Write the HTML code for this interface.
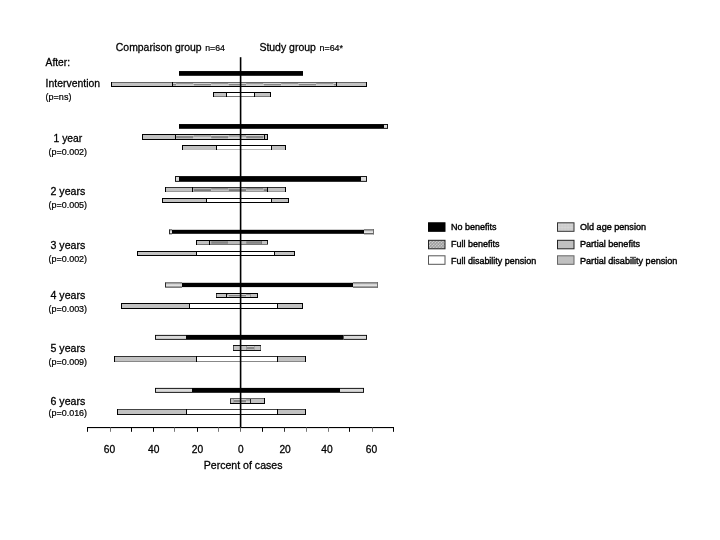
<!DOCTYPE html>
<html><head><meta charset="utf-8"><title>Chart</title>
<style>
html,body{margin:0;padding:0;background:#fff;}
body{width:720px;height:540px;overflow:hidden;}
svg{display:block;font-family:"Liberation Sans",sans-serif;fill:#000;will-change:transform;opacity:0.999;}
</style></head><body>
<svg width="720" height="540" viewBox="0 0 720 540">
<defs>
<pattern id="fb" x="0" y="0" width="2.16" height="2.16" patternUnits="userSpaceOnUse" patternTransform="translate(429.2 241.2) rotate(45)"><rect width="2.16" height="2.16" fill="#8a8a8a"/><rect x="0.38" y="0.38" width="1.4" height="1.4" fill="#e4e4e4"/></pattern>
<pattern id="oal" x="557.6" y="223" width="3" height="3" patternUnits="userSpaceOnUse"><rect width="3" height="3" fill="#c6c6c6"/><rect x="0.4" y="0.4" width="2.2" height="2.2" fill="#d8d8d8"/></pattern>
<linearGradient id="oag" x1="0" x2="0" y1="0" y2="1"><stop offset="0" stop-color="#c6c6c6"/><stop offset="0.45" stop-color="#d8d8d8"/><stop offset="1" stop-color="#efefef"/></linearGradient>
</defs>
<rect width="720" height="540" fill="#fff"/>
<rect x="179" y="71.05" width="124" height="4.75" fill="#000"/>
<rect x="111" y="82.5" width="61" height="4" fill="#c2c2c2"/>
<rect x="336" y="82.5" width="31" height="4" fill="#c2c2c2"/>
<rect x="172" y="83" width="4.1" height="1" fill="#cfcfcf"/>
<rect x="172" y="84" width="4.1" height="1" fill="#858585"/>
<rect x="172" y="85" width="4.1" height="1" fill="#b4b4b4"/>
<rect x="176.1" y="83" width="17.5" height="1" fill="#989898"/>
<rect x="176.1" y="84" width="17.5" height="1" fill="#c4c4c4"/>
<rect x="176.1" y="85" width="17.5" height="1" fill="#cfcfcf"/>
<rect x="193.6" y="83" width="17.5" height="1" fill="#cfcfcf"/>
<rect x="193.6" y="84" width="17.5" height="1" fill="#858585"/>
<rect x="193.6" y="85" width="17.5" height="1" fill="#b4b4b4"/>
<rect x="211.1" y="83" width="17.5" height="1" fill="#989898"/>
<rect x="211.1" y="84" width="17.5" height="1" fill="#c4c4c4"/>
<rect x="211.1" y="85" width="17.5" height="1" fill="#cfcfcf"/>
<rect x="228.6" y="83" width="17.5" height="1" fill="#cfcfcf"/>
<rect x="228.6" y="84" width="17.5" height="1" fill="#858585"/>
<rect x="228.6" y="85" width="17.5" height="1" fill="#b4b4b4"/>
<rect x="246.1" y="83" width="17.5" height="1" fill="#989898"/>
<rect x="246.1" y="84" width="17.5" height="1" fill="#c4c4c4"/>
<rect x="246.1" y="85" width="17.5" height="1" fill="#cfcfcf"/>
<rect x="263.6" y="83" width="17.5" height="1" fill="#cfcfcf"/>
<rect x="263.6" y="84" width="17.5" height="1" fill="#858585"/>
<rect x="263.6" y="85" width="17.5" height="1" fill="#b4b4b4"/>
<rect x="281.1" y="83" width="17.5" height="1" fill="#989898"/>
<rect x="281.1" y="84" width="17.5" height="1" fill="#c4c4c4"/>
<rect x="281.1" y="85" width="17.5" height="1" fill="#cfcfcf"/>
<rect x="298.6" y="83" width="17.5" height="1" fill="#cfcfcf"/>
<rect x="298.6" y="84" width="17.5" height="1" fill="#858585"/>
<rect x="298.6" y="85" width="17.5" height="1" fill="#b4b4b4"/>
<rect x="316.1" y="83" width="17.5" height="1" fill="#989898"/>
<rect x="316.1" y="84" width="17.5" height="1" fill="#c4c4c4"/>
<rect x="316.1" y="85" width="17.5" height="1" fill="#cfcfcf"/>
<rect x="333.6" y="83" width="2.4" height="1" fill="#cfcfcf"/>
<rect x="333.6" y="84" width="2.4" height="1" fill="#858585"/>
<rect x="333.6" y="85" width="2.4" height="1" fill="#b4b4b4"/>
<rect x="111" y="82" width="256" height="1" fill="#666"/>
<rect x="111" y="86" width="256" height="1" fill="#000"/>
<rect x="111" y="82" width="1" height="5" fill="#000"/>
<rect x="172" y="82" width="1" height="5" fill="#000"/>
<rect x="336" y="82" width="1" height="5" fill="#000"/>
<rect x="366" y="82" width="1" height="5" fill="#000"/>
<rect x="213" y="92.5" width="13" height="4" fill="#c2c2c2"/>
<rect x="254" y="92.5" width="17" height="4" fill="#c2c2c2"/>
<rect x="226" y="92.5" width="28" height="4" fill="#fff"/>
<rect x="213" y="92" width="58" height="1" fill="#000"/>
<rect x="213" y="96" width="58" height="1" fill="#777"/>
<rect x="213" y="92" width="1" height="5" fill="#000"/>
<rect x="226" y="92" width="1" height="5" fill="#000"/>
<rect x="254" y="92" width="1" height="5" fill="#000"/>
<rect x="270" y="92" width="1" height="5" fill="#000"/>
<rect x="384" y="124.05" width="4" height="4.75" fill="#000"/>
<rect x="384" y="124.95" width="3.1" height="2.95" fill="#dadada"/>
<rect x="179" y="124.05" width="205" height="4.75" fill="#000"/>
<rect x="142" y="134.5" width="33" height="5" fill="#c2c2c2"/>
<rect x="264" y="134.5" width="4" height="5" fill="#c2c2c2"/>
<rect x="175" y="135" width="1.1" height="1" fill="#a8a8a8"/>
<rect x="175" y="136" width="1.1" height="1" fill="#a8a8a8"/>
<rect x="175" y="137" width="1.1" height="1" fill="#cccccc"/>
<rect x="175" y="138" width="1.1" height="1" fill="#cccccc"/>
<rect x="176.1" y="135" width="17.5" height="1" fill="#cfcfcf"/>
<rect x="176.1" y="136" width="17.5" height="1" fill="#8a8a8a"/>
<rect x="176.1" y="137" width="17.5" height="1" fill="#8a8a8a"/>
<rect x="176.1" y="138" width="17.5" height="1" fill="#b8b8b8"/>
<rect x="193.6" y="135" width="17.5" height="1" fill="#a8a8a8"/>
<rect x="193.6" y="136" width="17.5" height="1" fill="#a8a8a8"/>
<rect x="193.6" y="137" width="17.5" height="1" fill="#cccccc"/>
<rect x="193.6" y="138" width="17.5" height="1" fill="#cccccc"/>
<rect x="211.1" y="135" width="17.5" height="1" fill="#cfcfcf"/>
<rect x="211.1" y="136" width="17.5" height="1" fill="#8a8a8a"/>
<rect x="211.1" y="137" width="17.5" height="1" fill="#8a8a8a"/>
<rect x="211.1" y="138" width="17.5" height="1" fill="#b8b8b8"/>
<rect x="228.6" y="135" width="17.5" height="1" fill="#a8a8a8"/>
<rect x="228.6" y="136" width="17.5" height="1" fill="#a8a8a8"/>
<rect x="228.6" y="137" width="17.5" height="1" fill="#cccccc"/>
<rect x="228.6" y="138" width="17.5" height="1" fill="#cccccc"/>
<rect x="246.1" y="135" width="17.5" height="1" fill="#cfcfcf"/>
<rect x="246.1" y="136" width="17.5" height="1" fill="#8a8a8a"/>
<rect x="246.1" y="137" width="17.5" height="1" fill="#8a8a8a"/>
<rect x="246.1" y="138" width="17.5" height="1" fill="#b8b8b8"/>
<rect x="263.6" y="135" width="0.4" height="1" fill="#a8a8a8"/>
<rect x="263.6" y="136" width="0.4" height="1" fill="#a8a8a8"/>
<rect x="263.6" y="137" width="0.4" height="1" fill="#cccccc"/>
<rect x="263.6" y="138" width="0.4" height="1" fill="#cccccc"/>
<rect x="142" y="134" width="126" height="1" fill="#000"/>
<rect x="142" y="139" width="126" height="1" fill="#000"/>
<rect x="142" y="134" width="1" height="6" fill="#000"/>
<rect x="175" y="134" width="1" height="6" fill="#000"/>
<rect x="264" y="134" width="1" height="6" fill="#000"/>
<rect x="267" y="134" width="1" height="6" fill="#000"/>
<rect x="182" y="145.5" width="34" height="4" fill="#c2c2c2"/>
<rect x="271" y="145.5" width="15" height="4" fill="#c2c2c2"/>
<rect x="216" y="145.5" width="55" height="4" fill="#fff"/>
<rect x="182" y="145" width="104" height="1" fill="#000"/>
<rect x="182" y="149" width="104" height="1" fill="#bbb"/>
<rect x="182" y="145" width="1" height="5" fill="#000"/>
<rect x="216" y="145" width="1" height="5" fill="#000"/>
<rect x="271" y="145" width="1" height="5" fill="#000"/>
<rect x="285" y="145" width="1" height="5" fill="#000"/>
<rect x="175" y="176.1" width="4" height="5.7" fill="#000"/>
<rect x="175.9" y="177" width="3.1" height="3.9" fill="#dadada"/>
<rect x="361" y="176.1" width="6" height="5.7" fill="#000"/>
<rect x="361" y="177" width="5.1" height="3.9" fill="#dadada"/>
<rect x="179" y="176.1" width="182" height="5.7" fill="#000"/>
<rect x="165" y="187.5" width="27" height="4" fill="#c2c2c2"/>
<rect x="267" y="187.5" width="19" height="4" fill="#c2c2c2"/>
<rect x="192" y="188" width="1.6" height="1" fill="#8c8c8c"/>
<rect x="192" y="189" width="1.6" height="1" fill="#a8a8a8"/>
<rect x="192" y="190" width="1.6" height="1" fill="#c0c0c0"/>
<rect x="193.6" y="188" width="17.5" height="1" fill="#b0b0b0"/>
<rect x="193.6" y="189" width="17.5" height="1" fill="#8a8a8a"/>
<rect x="193.6" y="190" width="17.5" height="1" fill="#7c7c7c"/>
<rect x="211.1" y="188" width="17.5" height="1" fill="#8c8c8c"/>
<rect x="211.1" y="189" width="17.5" height="1" fill="#a8a8a8"/>
<rect x="211.1" y="190" width="17.5" height="1" fill="#c0c0c0"/>
<rect x="228.6" y="188" width="17.5" height="1" fill="#b0b0b0"/>
<rect x="228.6" y="189" width="17.5" height="1" fill="#8a8a8a"/>
<rect x="228.6" y="190" width="17.5" height="1" fill="#7c7c7c"/>
<rect x="246.1" y="188" width="17.5" height="1" fill="#8c8c8c"/>
<rect x="246.1" y="189" width="17.5" height="1" fill="#a8a8a8"/>
<rect x="246.1" y="190" width="17.5" height="1" fill="#c0c0c0"/>
<rect x="263.6" y="188" width="3.4" height="1" fill="#b0b0b0"/>
<rect x="263.6" y="189" width="3.4" height="1" fill="#8a8a8a"/>
<rect x="263.6" y="190" width="3.4" height="1" fill="#7c7c7c"/>
<rect x="165" y="187" width="121" height="1" fill="#333"/>
<rect x="165" y="191" width="121" height="1" fill="#999"/>
<rect x="165" y="187" width="1" height="5" fill="#000"/>
<rect x="192" y="187" width="1" height="5" fill="#000"/>
<rect x="267" y="187" width="1" height="5" fill="#000"/>
<rect x="285" y="187" width="1" height="5" fill="#000"/>
<rect x="162" y="198.5" width="44" height="4" fill="#c2c2c2"/>
<rect x="271" y="198.5" width="18" height="4" fill="#c2c2c2"/>
<rect x="206" y="198.5" width="65" height="4" fill="#fff"/>
<rect x="162" y="198" width="127" height="1" fill="#000"/>
<rect x="162" y="202" width="127" height="1" fill="#000"/>
<rect x="162" y="198" width="1" height="5" fill="#000"/>
<rect x="206" y="198" width="1" height="5" fill="#000"/>
<rect x="271" y="198" width="1" height="5" fill="#000"/>
<rect x="288" y="198" width="1" height="5" fill="#000"/>
<rect x="169" y="229.3" width="3" height="5" fill="#2a2a2a"/>
<rect x="170" y="229.3" width="2" height="1" fill="#909090"/>
<rect x="170" y="230.3" width="2" height="3" fill="url(#oag)"/>
<rect x="364" y="229.3" width="10" height="5" fill="#2a2a2a"/>
<rect x="364" y="229.3" width="9" height="1" fill="#909090"/>
<rect x="364" y="230.3" width="9" height="3" fill="url(#oag)"/>
<rect x="373" y="229.3" width="1" height="5" fill="#707070"/>
<rect x="172" y="229.8" width="192" height="4" fill="#000"/>
<rect x="196" y="240.5" width="13" height="4" fill="#c2c2c2"/>
<rect x="261" y="240.5" width="7" height="4" fill="#c2c2c2"/>
<rect x="209" y="241" width="2.1" height="1" fill="#b4b4b4"/>
<rect x="209" y="242" width="2.1" height="1" fill="#bcbcbc"/>
<rect x="209" y="243" width="2.1" height="1" fill="#b8b8b8"/>
<rect x="211.1" y="241" width="17.5" height="1" fill="#909090"/>
<rect x="211.1" y="242" width="17.5" height="1" fill="#868686"/>
<rect x="211.1" y="243" width="17.5" height="1" fill="#909090"/>
<rect x="228.6" y="241" width="17.5" height="1" fill="#b4b4b4"/>
<rect x="228.6" y="242" width="17.5" height="1" fill="#bcbcbc"/>
<rect x="228.6" y="243" width="17.5" height="1" fill="#b8b8b8"/>
<rect x="246.1" y="241" width="14.9" height="1" fill="#909090"/>
<rect x="246.1" y="242" width="14.9" height="1" fill="#868686"/>
<rect x="246.1" y="243" width="14.9" height="1" fill="#909090"/>
<rect x="196" y="240" width="72" height="1" fill="#000"/>
<rect x="196" y="244" width="72" height="1" fill="#777"/>
<rect x="196" y="240" width="1" height="5" fill="#000"/>
<rect x="209" y="240" width="1" height="5" fill="#000"/>
<rect x="261" y="241" width="1" height="3" fill="#777"/>
<rect x="267" y="241" width="1" height="3" fill="#222"/>
<rect x="137" y="251.5" width="59" height="4" fill="#c2c2c2"/>
<rect x="274" y="251.5" width="21" height="4" fill="#c2c2c2"/>
<rect x="196" y="251.5" width="78" height="4" fill="#fff"/>
<rect x="137" y="251" width="158" height="1" fill="#000"/>
<rect x="137" y="255" width="158" height="1" fill="#000"/>
<rect x="137" y="251" width="1" height="5" fill="#000"/>
<rect x="196" y="251" width="1" height="5" fill="#000"/>
<rect x="274" y="251" width="1" height="5" fill="#000"/>
<rect x="294" y="251" width="1" height="5" fill="#000"/>
<rect x="165" y="282.3" width="17" height="5.3" fill="#2a2a2a"/>
<rect x="166" y="282.3" width="16" height="1" fill="#909090"/>
<rect x="166" y="283.3" width="16" height="3.3" fill="url(#oag)"/>
<rect x="353" y="282.3" width="25" height="5.3" fill="#2a2a2a"/>
<rect x="353" y="282.3" width="24" height="1" fill="#909090"/>
<rect x="353" y="283.3" width="24" height="3.3" fill="url(#oag)"/>
<rect x="377" y="282.3" width="1" height="5.3" fill="#707070"/>
<rect x="182" y="282.8" width="171" height="4.3" fill="#000"/>
<rect x="216" y="293.5" width="10" height="4" fill="#c2c2c2"/>
<rect x="250" y="293.5" width="8" height="4" fill="#c2c2c2"/>
<rect x="226" y="294" width="2.6" height="1" fill="#989898"/>
<rect x="226" y="295" width="2.6" height="1" fill="#c4c4c4"/>
<rect x="226" y="296" width="2.6" height="1" fill="#cfcfcf"/>
<rect x="228.6" y="294" width="17.5" height="1" fill="#cfcfcf"/>
<rect x="228.6" y="295" width="17.5" height="1" fill="#858585"/>
<rect x="228.6" y="296" width="17.5" height="1" fill="#b4b4b4"/>
<rect x="246.1" y="294" width="3.9" height="1" fill="#989898"/>
<rect x="246.1" y="295" width="3.9" height="1" fill="#c4c4c4"/>
<rect x="246.1" y="296" width="3.9" height="1" fill="#cfcfcf"/>
<rect x="216" y="293" width="42" height="1" fill="#000"/>
<rect x="216" y="297" width="42" height="1" fill="#000"/>
<rect x="216" y="294" width="1" height="3" fill="#444"/>
<rect x="226" y="293" width="1" height="5" fill="#000"/>
<rect x="250" y="294" width="1" height="3" fill="#999"/>
<rect x="257" y="293" width="1" height="5" fill="#000"/>
<rect x="121" y="303.5" width="68" height="5" fill="#c2c2c2"/>
<rect x="277" y="303.5" width="26" height="5" fill="#c2c2c2"/>
<rect x="189" y="303.5" width="88" height="5" fill="#fff"/>
<rect x="121" y="303" width="182" height="1" fill="#000"/>
<rect x="121" y="308" width="182" height="1" fill="#000"/>
<rect x="121" y="303" width="1" height="6" fill="#000"/>
<rect x="189" y="303" width="1" height="6" fill="#000"/>
<rect x="277" y="303" width="1" height="6" fill="#000"/>
<rect x="302" y="303" width="1" height="6" fill="#000"/>
<rect x="155" y="334.9" width="31" height="4.9" fill="#000"/>
<rect x="155.9" y="335.8" width="30.1" height="3.1" fill="#dadada"/>
<rect x="343.5" y="334.9" width="23.5" height="4.9" fill="#000"/>
<rect x="343.5" y="335.8" width="22.6" height="3.1" fill="#dadada"/>
<rect x="186" y="334.9" width="157.5" height="4.9" fill="#000"/>
<rect x="233" y="345.5" width="13" height="5" fill="#c2c2c2"/>
<rect x="254" y="345.5" width="7" height="5" fill="#c2c2c2"/>
<rect x="246" y="346" width="0.1" height="1" fill="#a8a8a8"/>
<rect x="246" y="347" width="0.1" height="1" fill="#a8a8a8"/>
<rect x="246" y="348" width="0.1" height="1" fill="#cccccc"/>
<rect x="246" y="349" width="0.1" height="1" fill="#cccccc"/>
<rect x="246.1" y="346" width="7.9" height="1" fill="#cfcfcf"/>
<rect x="246.1" y="347" width="7.9" height="1" fill="#8a8a8a"/>
<rect x="246.1" y="348" width="7.9" height="1" fill="#8a8a8a"/>
<rect x="246.1" y="349" width="7.9" height="1" fill="#b8b8b8"/>
<rect x="233" y="345" width="28" height="1" fill="#111"/>
<rect x="233" y="350" width="28" height="1" fill="#111"/>
<rect x="233" y="346" width="1" height="4" fill="#555"/>
<rect x="246" y="346" width="1" height="4" fill="#999"/>
<rect x="254" y="346" width="1" height="4" fill="#aaa"/>
<rect x="260" y="346" width="1" height="4" fill="#777"/>
<rect x="114" y="356.5" width="82" height="5" fill="#c2c2c2"/>
<rect x="277" y="356.5" width="29" height="5" fill="#c2c2c2"/>
<rect x="196" y="356.5" width="81" height="5" fill="#fff"/>
<rect x="114" y="356" width="192" height="1" fill="#333"/>
<rect x="114" y="361" width="192" height="1" fill="#888"/>
<rect x="114" y="356" width="1" height="6" fill="#000"/>
<rect x="196" y="356" width="1" height="6" fill="#000"/>
<rect x="277" y="356" width="1" height="6" fill="#000"/>
<rect x="305" y="356" width="1" height="6" fill="#000"/>
<rect x="155" y="387.9" width="37" height="4.9" fill="#000"/>
<rect x="155.9" y="388.8" width="36.1" height="3.1" fill="#dadada"/>
<rect x="340" y="387.9" width="24" height="4.9" fill="#000"/>
<rect x="340" y="388.8" width="23.1" height="3.1" fill="#dadada"/>
<rect x="192" y="387.9" width="148" height="4.9" fill="#000"/>
<rect x="230" y="398.5" width="3" height="5" fill="#c2c2c2"/>
<rect x="250" y="398.5" width="15" height="5" fill="#c2c2c2"/>
<rect x="233" y="399" width="13.1" height="1" fill="#cfcfcf"/>
<rect x="233" y="400" width="13.1" height="1" fill="#8a8a8a"/>
<rect x="233" y="401" width="13.1" height="1" fill="#8a8a8a"/>
<rect x="233" y="402" width="13.1" height="1" fill="#b8b8b8"/>
<rect x="246.1" y="399" width="3.9" height="1" fill="#a8a8a8"/>
<rect x="246.1" y="400" width="3.9" height="1" fill="#a8a8a8"/>
<rect x="246.1" y="401" width="3.9" height="1" fill="#cccccc"/>
<rect x="246.1" y="402" width="3.9" height="1" fill="#cccccc"/>
<rect x="230" y="398" width="35" height="1" fill="#666"/>
<rect x="230" y="403" width="35" height="1" fill="#000"/>
<rect x="230" y="399" width="1" height="4" fill="#333"/>
<rect x="233" y="399" width="1" height="4" fill="#aaa"/>
<rect x="250" y="399" width="1" height="4" fill="#222"/>
<rect x="264" y="398" width="1" height="6" fill="#000"/>
<rect x="117" y="409.5" width="69" height="5" fill="#c2c2c2"/>
<rect x="277" y="409.5" width="29" height="5" fill="#c2c2c2"/>
<rect x="186" y="409.5" width="91" height="5" fill="#fff"/>
<rect x="117" y="409" width="189" height="1" fill="#444"/>
<rect x="117" y="414" width="189" height="1" fill="#111"/>
<rect x="117" y="409" width="1" height="6" fill="#000"/>
<rect x="186" y="409" width="1" height="6" fill="#000"/>
<rect x="277" y="409" width="1" height="6" fill="#000"/>
<rect x="305" y="409" width="1" height="6" fill="#000"/>
<rect x="239.8" y="57.2" width="1.6" height="370.3" fill="#000"/>
<rect x="87" y="427" width="307" height="1.1" fill="#000"/>
<rect x="87" y="427.5" width="1" height="4.3" fill="#000"/>
<rect x="110" y="427.5" width="1" height="4.3" fill="#777"/>
<rect x="131" y="427.5" width="1" height="4.3" fill="#000"/>
<rect x="153" y="427.5" width="1" height="4.3" fill="#000"/>
<rect x="174" y="427.5" width="1" height="4.3" fill="#777"/>
<rect x="197" y="427.5" width="1" height="4.3" fill="#000"/>
<rect x="218" y="427.5" width="1" height="4.3" fill="#777"/>
<rect x="240" y="427.5" width="1" height="4.3" fill="#666"/>
<rect x="262" y="427.5" width="1" height="4.3" fill="#000"/>
<rect x="284" y="427.5" width="1" height="4.3" fill="#333"/>
<rect x="306" y="427.5" width="1" height="4.3" fill="#777"/>
<rect x="328" y="427.5" width="1" height="4.3" fill="#777"/>
<rect x="349" y="427.5" width="1" height="4.3" fill="#000"/>
<rect x="372" y="427.5" width="1" height="4.3" fill="#777"/>
<rect x="393" y="427.5" width="1" height="4.3" fill="#000"/>
<text x="109.50" y="452.9" font-size="11.4" text-anchor="middle" stroke="#000" stroke-width="0.3" textLength="11.4" lengthAdjust="spacingAndGlyphs">60</text>
<text x="153.70" y="452.9" font-size="11.4" text-anchor="middle" stroke="#000" stroke-width="0.3" textLength="11.4" lengthAdjust="spacingAndGlyphs">40</text>
<text x="197.40" y="452.9" font-size="11.4" text-anchor="middle" stroke="#000" stroke-width="0.3" textLength="11.4" lengthAdjust="spacingAndGlyphs">20</text>
<text x="240.90" y="452.9" font-size="11.4" text-anchor="middle" stroke="#000" stroke-width="0.3" textLength="5.6" lengthAdjust="spacingAndGlyphs">0</text>
<text x="285.10" y="452.9" font-size="11.4" text-anchor="middle" stroke="#000" stroke-width="0.3" textLength="11.4" lengthAdjust="spacingAndGlyphs">20</text>
<text x="326.90" y="452.9" font-size="11.4" text-anchor="middle" stroke="#000" stroke-width="0.3" textLength="11.4" lengthAdjust="spacingAndGlyphs">40</text>
<text x="371.40" y="452.9" font-size="11.4" text-anchor="middle" stroke="#000" stroke-width="0.3" textLength="11.4" lengthAdjust="spacingAndGlyphs">60</text>
<text x="115.8" y="50.5" font-size="11.4" text-anchor="start" textLength="85.8" lengthAdjust="spacingAndGlyphs" stroke="#000" stroke-width="0.3">Comparison group</text>
<text x="205.2" y="50.8" font-size="9.6" text-anchor="start" textLength="19.8" lengthAdjust="spacingAndGlyphs" stroke="#000" stroke-width="0.22">n=64</text>
<text x="259.4" y="50.5" font-size="11.4" text-anchor="start" textLength="56.5" lengthAdjust="spacingAndGlyphs" stroke="#000" stroke-width="0.3">Study group</text>
<text x="319.5" y="50.8" font-size="9.6" text-anchor="start" textLength="23.5" lengthAdjust="spacingAndGlyphs" stroke="#000" stroke-width="0.22">n=64*</text>
<text x="45.6" y="65.6" font-size="11.4" text-anchor="start" textLength="24.5" lengthAdjust="spacingAndGlyphs" stroke="#000" stroke-width="0.3">After:</text>
<text x="45.6" y="86.9" font-size="11.4" text-anchor="start" textLength="54.5" lengthAdjust="spacingAndGlyphs" stroke="#000" stroke-width="0.3">Intervention</text>
<text x="45.6" y="100" font-size="9.3" text-anchor="start" textLength="25.8" lengthAdjust="spacingAndGlyphs" stroke="#000" stroke-width="0.22">(p=ns)</text>
<text x="67.9" y="141.8" font-size="11.4" text-anchor="middle" textLength="28.7" lengthAdjust="spacingAndGlyphs" stroke="#000" stroke-width="0.3">1 year</text>
<text x="67.8" y="155.1" font-size="9.3" text-anchor="middle" textLength="38.5" lengthAdjust="spacingAndGlyphs" stroke="#000" stroke-width="0.22">(p=0.002)</text>
<text x="67.9" y="195.2" font-size="11.4" text-anchor="middle" textLength="34.8" lengthAdjust="spacingAndGlyphs" stroke="#000" stroke-width="0.3">2 years</text>
<text x="67.8" y="208.1" font-size="9.3" text-anchor="middle" textLength="38.5" lengthAdjust="spacingAndGlyphs" stroke="#000" stroke-width="0.22">(p=0.005)</text>
<text x="67.9" y="249.4" font-size="11.4" text-anchor="middle" textLength="34.8" lengthAdjust="spacingAndGlyphs" stroke="#000" stroke-width="0.3">3 years</text>
<text x="67.8" y="261.5" font-size="9.3" text-anchor="middle" textLength="38.5" lengthAdjust="spacingAndGlyphs" stroke="#000" stroke-width="0.22">(p=0.002)</text>
<text x="67.9" y="298.8" font-size="11.4" text-anchor="middle" textLength="34.8" lengthAdjust="spacingAndGlyphs" stroke="#000" stroke-width="0.3">4 years</text>
<text x="67.8" y="311.6" font-size="9.3" text-anchor="middle" textLength="38.5" lengthAdjust="spacingAndGlyphs" stroke="#000" stroke-width="0.22">(p=0.003)</text>
<text x="67.9" y="352.4" font-size="11.4" text-anchor="middle" textLength="34.8" lengthAdjust="spacingAndGlyphs" stroke="#000" stroke-width="0.3">5 years</text>
<text x="67.8" y="364.8" font-size="9.3" text-anchor="middle" textLength="38.5" lengthAdjust="spacingAndGlyphs" stroke="#000" stroke-width="0.22">(p=0.009)</text>
<text x="67.9" y="404.9" font-size="11.4" text-anchor="middle" textLength="34.8" lengthAdjust="spacingAndGlyphs" stroke="#000" stroke-width="0.3">6 years</text>
<text x="67.8" y="416.3" font-size="9.3" text-anchor="middle" textLength="38.5" lengthAdjust="spacingAndGlyphs" stroke="#000" stroke-width="0.22">(p=0.016)</text>
<text x="203.75" y="469" font-size="11.4" text-anchor="start" textLength="78.7" lengthAdjust="spacingAndGlyphs" stroke="#000" stroke-width="0.3">Percent of cases</text>
<rect x="428.5" y="222.8" width="16.5" height="8.5" fill="#000" stroke="#000" stroke-width="1"/>
<rect x="428.5" y="240.3" width="16.5" height="8.5" fill="url(#fb)" stroke="#222" stroke-width="1"/>
<rect x="428.5" y="255.8" width="16.5" height="8.5" fill="#fff" stroke="#555" stroke-width="1"/>
<rect x="557.5" y="222.8" width="16.5" height="8.5" fill="url(#oal)" stroke="#333" stroke-width="1"/>
<rect x="557.5" y="240.3" width="16.5" height="8.5" fill="#c0c0c0" stroke="#222" stroke-width="1"/>
<rect x="557.5" y="255.8" width="16.5" height="8.5" fill="#c0c0c0" stroke="#666" stroke-width="1"/>
<text x="451" y="230.1" font-size="9.8" text-anchor="start" textLength="45.5" lengthAdjust="spacingAndGlyphs" stroke="#000" stroke-width="0.42">No benefits</text>
<text x="451" y="246.9" font-size="9.8" text-anchor="start" textLength="48.5" lengthAdjust="spacingAndGlyphs" stroke="#000" stroke-width="0.42">Full benefits</text>
<text x="451" y="263.70000000000005" font-size="9.8" text-anchor="start" textLength="85.2" lengthAdjust="spacingAndGlyphs" stroke="#000" stroke-width="0.42">Full disability pension</text>
<text x="580" y="230.1" font-size="9.8" text-anchor="start" textLength="66" lengthAdjust="spacingAndGlyphs" stroke="#000" stroke-width="0.42">Old age pension</text>
<text x="580" y="246.9" font-size="9.8" text-anchor="start" textLength="60" lengthAdjust="spacingAndGlyphs" stroke="#000" stroke-width="0.42">Partial benefits</text>
<text x="580" y="263.70000000000005" font-size="9.8" text-anchor="start" textLength="97.4" lengthAdjust="spacingAndGlyphs" stroke="#000" stroke-width="0.42">Partial disability pension</text>
</svg>
</body></html>
